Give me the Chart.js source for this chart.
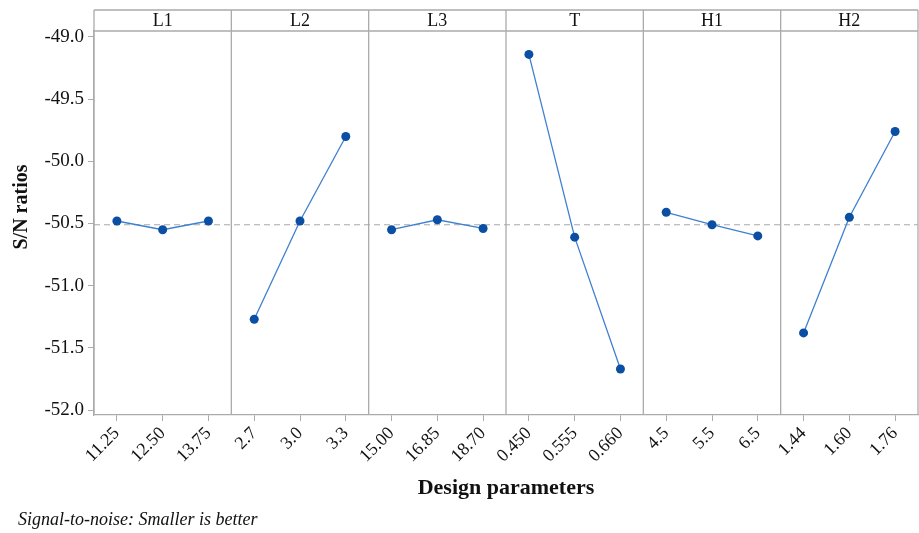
<!DOCTYPE html>
<html>
<head>
<meta charset="utf-8">
<title>Main effects plot for S/N ratios</title>
<script src="https://cdn.jsdelivr.net/npm/chart.js@4.4.1/dist/chart.umd.min.js"></script>
<style>
  html, body { margin: 0; padding: 0; background: #ffffff; }
  #wrap { width: 919px; height: 533px; position: relative; }
</style>
</head>
<body>
<div id="wrap"><canvas id="chart" width="919" height="533"></canvas></div>
<script>
// Factors and their three levels
const factors = ['L1', 'L2', 'L3', 'T', 'H1', 'H2'];
const levelsL1 = ['11.25', '12.50', '13.75'];
const levelsL2 = ['2.7', '3.0', '3.3'];
const levelsL3 = ['15.00', '16.85', '18.70'];
const levelsT  = ['0.450', '0.555', '0.660'];
const levelsH1 = ['4.5', '5.5', '6.5'];
const levelsH2 = ['1.44', '1.60', '1.76'];

// Mean S/N ratio (dB) at each level
const snL1 = [-50.48, -50.55, -50.48];
const snL2 = [-51.27, -50.48, -49.80];
const snL3 = [-50.55, -50.47, -50.54];
const snT  = [-49.14, -50.61, -51.67];
const snH1 = [-50.41, -50.51, -50.60];
const snH2 = [-51.38, -50.45, -49.76];

// Overall mean S/N ratio (reference line)
const grandMean = -50.51;

// Y-axis tick values
const yTicks = [-52.0, -51.5, -51.0, -50.5, -50.0, -49.5, -49.0];

const levelSets = [levelsL1, levelsL2, levelsL3, levelsT, levelsH1, levelsH2];
const snSets = [snL1, snL2, snL3, snT, snH1, snH2];
const categories = levelSets.flat();

const frameColor = '#ABABAB';
const lineColor = '#3F80D0';
const pointColor = '#0A4FA3';
const serif = '"Liberation Serif", "Times New Roman", serif';

// One dataset per factor; each only occupies its own three categories
const datasets = factors.map((name, f) => {
  const data = categories.map(() => null);
  snSets[f].forEach((v, k) => { data[f * 3 + k] = v; });
  return {
    label: name,
    data,
    borderColor: lineColor,
    borderWidth: 1.3,
    pointRadius: 4.5,
    pointBackgroundColor: pointColor,
    pointBorderColor: pointColor,
    pointBorderWidth: 0,
    spanGaps: false,
    tension: 0
  };
});

// Panel frames, header strip, reference line and y-axis title
const panelFrame = {
  id: 'panelFrame',
  beforeDatasetsDraw(chart) {
    const { ctx, chartArea: a, scales: { x, y } } = chart;
    const headTop = a.top - 21;
    ctx.save();

    const ym = y.getPixelForValue(grandMean);
    ctx.strokeStyle = '#A9A9A9';
    ctx.lineWidth = 1.2;
    ctx.setLineDash([6, 4]);
    ctx.beginPath();
    ctx.moveTo(a.left, ym);
    ctx.lineTo(a.right, ym);
    ctx.stroke();
    ctx.setLineDash([]);

    ctx.strokeStyle = frameColor;
    ctx.lineWidth = 1.3;
    ctx.beginPath();
    const edges = [];
    for (let i = 0; i <= factors.length; i++) {
      let px;
      if (i === 0) px = a.left;
      else if (i === factors.length) px = a.right;
      else px = (x.getPixelForValue(i * 3 - 1) + x.getPixelForValue(i * 3)) / 2;
      edges.push(px);
      ctx.moveTo(px, headTop);
      ctx.lineTo(px, a.bottom);
    }
    ctx.moveTo(a.left, headTop);
    ctx.lineTo(a.right, headTop);
    ctx.moveTo(a.left, a.top);
    ctx.lineTo(a.right, a.top);
    ctx.stroke();

    ctx.fillStyle = '#111111';
    ctx.font = '18px ' + serif;
    ctx.textAlign = 'center';
    ctx.textBaseline = 'middle';
    factors.forEach((name, i) => {
      ctx.fillText(name, (edges[i] + edges[i + 1]) / 2, (headTop + a.top) / 2 + 1);
    });

    ctx.translate(22, 207);
    ctx.rotate(-Math.PI / 2);
    ctx.font = 'bold 20px ' + serif;
    ctx.fillText('S/N ratios', 0, 0);
    ctx.restore();
  }
};

new Chart(document.getElementById('chart'), {
  type: 'line',
  data: { labels: categories, datasets },
  plugins: [panelFrame],
  options: {
    responsive: false,
    animation: false,
    layout: { autoPadding: false, padding: { top: 31, right: 1, left: 18, bottom: 0 } },
    plugins: {
      legend: { display: false },
      tooltip: { enabled: false },
      title: {
        display: true,
        position: 'bottom',
        align: 'start',
        text: 'Signal-to-noise: Smaller is better',
        color: '#111111',
        font: { family: serif, size: 18, style: 'italic', weight: 'normal' },
        padding: { top: 7, bottom: 2 }
      }
    },
    scales: {
      x: {
        type: 'category',
        offset: true,
        grid: { display: true, drawOnChartArea: false, drawTicks: true, tickLength: 6, color: frameColor, offset: false },
        border: { display: true, color: frameColor, width: 1.3 },
        ticks: {
          autoSkip: false,
          minRotation: 45,
          maxRotation: 45,
          padding: 2,
          color: '#111111',
          font: { family: serif, size: 18 }
        },
        title: {
          display: true,
          text: 'Design parameters',
          color: '#111111',
          font: { family: serif, size: 22, weight: 'bold' },
          padding: { top: 0, bottom: 1 }
        },
        afterFit(scale) { scale.height = 87.4; }
      },
      y: {
        type: 'linear',
        min: -52.04,
        max: -48.952,
        grid: { display: true, drawOnChartArea: false, drawTicks: true, tickLength: 6, color: frameColor },
        border: { display: true, color: frameColor, width: 1.3 },
        afterBuildTicks(scale) { scale.ticks = yTicks.map(v => ({ value: v })); },
        ticks: {
          padding: 4,
          color: '#111111',
          font: { family: serif, size: 19 },
          callback: (v) => Number(v).toFixed(1)
        },
        afterFit(scale) { scale.width = 76; }
      }
    }
  }
});
</script>
</body>
</html>
